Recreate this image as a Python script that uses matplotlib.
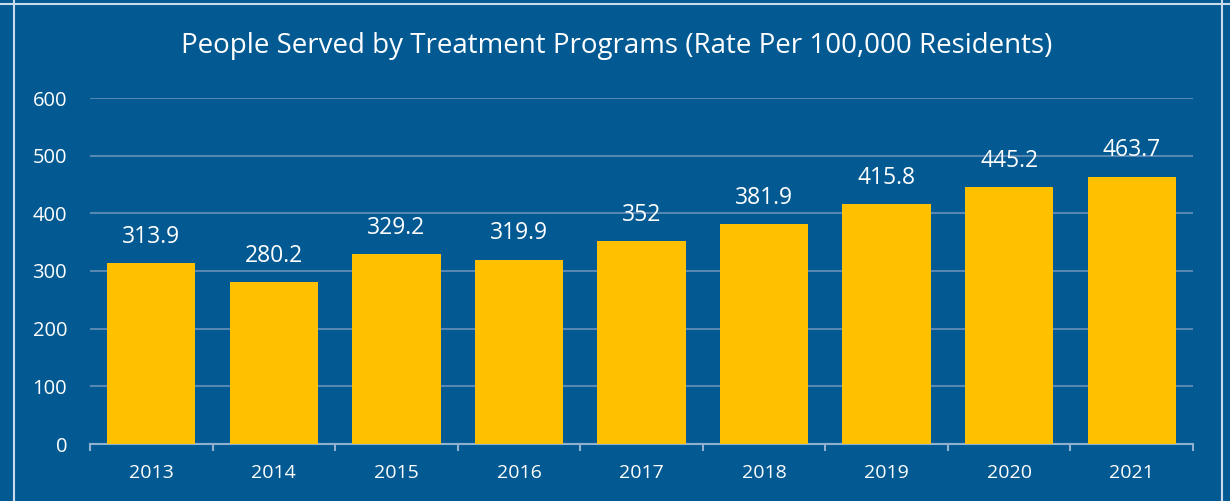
import matplotlib
matplotlib.use('Agg')
import matplotlib.pyplot as plt
from matplotlib.lines import Line2D
import numpy as np

years = ['2013', '2014', '2015', '2016', '2017', '2018', '2019', '2020', '2021']
rates = [313.9, 280.2, 329.2, 319.9, 352, 381.9, 415.8, 445.2, 463.7]
labels = ['313.9', '280.2', '329.2', '319.9', '352', '381.9', '415.8', '445.2', '463.7']
yticks = [0, 100, 200, 300, 400, 500, 600]

BG = '#035A93'
BAR = '#FFC000'
GRID = '#5587B2'
AXIS = '#8FB0CF'
FONT = 'Open Sans'

W, H = 1230, 501
fig = plt.figure(figsize=(W / 100, H / 100), dpi=100, facecolor=BG)
ax = fig.add_axes([90 / W, 1 - 444 / H, (1193 - 90) / W, (444 - 98) / H])
ax.set_facecolor(BG)

x = np.arange(len(years))
ax.bar(x, rates, width=0.72, color=BAR, zorder=3)
for xi, v, lab in zip(x, rates, labels):
    ax.text(xi, v + 35, lab, ha='center', va='baseline', color='white',
            fontsize=16.5, family=FONT, zorder=4)

ax.set_xlim(-0.5, len(years) - 0.5)
ax.set_ylim(0, 600)
ax.set_yticks(yticks)
ax.set_yticklabels([str(t) for t in yticks], family=FONT, fontsize=14.5, color='white')
ax.yaxis.grid(True, color=GRID, linewidth=1.5, zorder=0)
ax.tick_params(axis='y', length=0, pad=16.5)

ax.set_xticks(x)
ax.set_xticklabels(years, family=FONT, fontsize=14, color='white')
ax.set_xticks(np.arange(len(years) + 1) - 0.5, minor=True)
ax.tick_params(axis='x', which='major', length=0, pad=14.5)
ax.tick_params(axis='x', which='minor', length=5, width=1.5, color=AXIS, direction='out')

for s in ['top', 'right', 'left']:
    ax.spines[s].set_visible(False)
ax.spines['bottom'].set_color(AXIS)
ax.spines['bottom'].set_linewidth(1.5)

fig.text(617 / W, 1 - 46 / H, 'People Served by Treatment Programs (Rate Per 100,000 Residents)',
         ha='center', va='center', color='white', fontsize=20, family=FONT)

# frame lines around the slide panel
fig.add_artist(Line2D([14 / W, 14 / W], [0, 1], color='#C9DAEA', linewidth=1.5))
fig.add_artist(Line2D([1222 / W, 1222 / W], [0, 1], color='#C9DAEA', linewidth=1.5))
fig.add_artist(Line2D([0, 1], [1 - 4 / H, 1 - 4 / H], color='#C9DAEA', linewidth=1.5))

fig.savefig('out.png', dpi=100, facecolor=BG)
